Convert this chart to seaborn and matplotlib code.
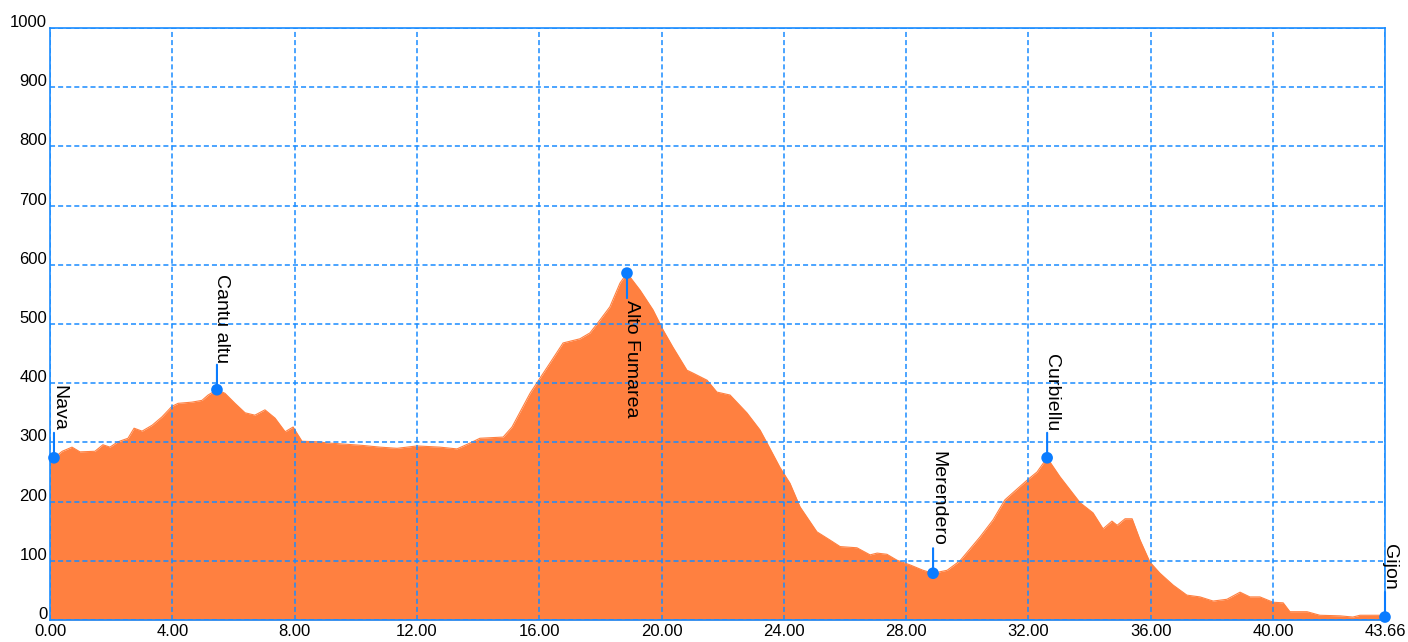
import matplotlib
matplotlib.use('Agg')
import matplotlib.pyplot as plt
import seaborn as sns
import pandas as pd
from matplotlib.transforms import ScaledTranslation

# ---- data (km, m) ----
dist = [0.00, 0.07, 0.13, 0.40, 0.72, 0.98, 1.47, 1.73, 1.96, 2.22, 2.55, 2.75,
        3.01, 3.34, 3.66, 3.99, 4.19, 4.64, 4.97, 5.17, 5.46, 5.72, 6.05, 6.38,
        6.70, 7.03, 7.36, 7.69, 7.95, 8.24, 8.76, 9.09, 9.65, 10.20, 10.79, 11.35,
        12.00, 12.75, 13.31, 13.74, 14.06, 14.82, 15.11, 15.70, 16.03, 16.35, 16.78,
        17.33, 17.66, 17.99, 18.31, 18.64, 18.87, 19.30, 19.72, 20.05, 20.37, 20.83,
        21.03, 21.49, 21.81, 22.24, 22.79, 23.22, 23.45, 23.87, 24.20, 24.53, 25.08,
        25.51, 25.84, 26.39, 26.82, 27.05, 27.37, 27.70, 28.13, 28.55, 28.88, 29.34,
        29.76, 30.41, 30.84, 31.23, 31.49, 31.95, 32.28, 32.61, 33.03, 33.69, 34.11,
        34.44, 34.73, 34.90, 35.16, 35.39, 35.65, 35.97, 36.30, 36.73, 37.18, 37.61,
        38.04, 38.49, 38.92, 39.24, 39.57, 40.00, 40.33, 40.55, 41.11, 41.53, 42.19,
        42.61, 42.84, 43.50, 43.66]
elev = [274, 279, 274, 285, 292, 284, 285, 296, 292, 301, 307, 324,
        319, 329, 343, 361, 366, 368, 371, 380, 389, 383, 366, 350,
        346, 355, 341, 318, 326, 302, 301, 299, 297, 295, 292, 290,
        294, 292, 289, 299, 307, 309, 326, 383, 409, 434, 468,
        475, 485, 507, 529, 569, 586, 557, 524, 490, 461, 422,
        417, 405, 385, 380, 350, 321, 299, 258, 231, 191, 149,
        135, 124, 122, 110, 113, 111, 101, 93, 84, 79, 84,
        100, 140, 169, 203, 215, 236, 250, 274, 242, 198, 181,
        154, 167, 160, 171, 171, 135, 98, 79, 59, 42, 39,
        32, 35, 47, 39, 39, 30, 29, 14, 14, 8, 7,
        5, 8, 8, 5]

wp_names = ['Nava', 'Cantu altu', 'Alto Fumarea', 'Merendero', 'Curbiellu', 'Gijon']
wp_dist = [0.13, 5.46, 18.87, 28.88, 32.61, 43.66]
wp_elev = [274, 389, 586, 79, 274, 5]
wp_dir = ['up', 'up', 'down', 'up', 'up', 'up']

xticks = [0, 4, 8, 12, 16, 20, 24, 28, 32, 36, 40, 43.66]
xticklabels = ['0.00', '4.00', '8.00', '12.00', '16.00', '20.00', '24.00',
               '28.00', '32.00', '36.00', '40.00', '43.66']
yticks = [0, 100, 200, 300, 400, 500, 600, 700, 800, 900, 1000]
yticklabels = ['0', '100', '200', '300', '400', '500', '600', '700', '800', '900', '1000']

FILL = '#FF8040'
BLUE = '#1A8CFF'

sns.set_style('white')
plt.rcParams['font.family'] = ['Liberation Sans', 'DejaVu Sans']

fig = plt.figure(figsize=(14.08, 6.42), dpi=100)
ax = fig.add_axes([50 / 1408, 22 / 642, 1335 / 1408, 592 / 642])

df = pd.DataFrame({'dist': dist, 'elev': elev})
ax.fill_between(df['dist'], df['elev'], 0, color=FILL, lw=0, zorder=1)
sns.lineplot(data=df, x='dist', y='elev', ax=ax, color=FILL, lw=0.8, zorder=1.5)

ax.set_xlim(0, 43.66)
ax.set_ylim(0, 1000)
ax.set_xticks(xticks)
ax.set_xticklabels(xticklabels)
ax.set_yticks(yticks)
ax.set_yticklabels(yticklabels)
ax.set_xlabel('')
ax.set_ylabel('')
ax.tick_params(length=0, labelsize=12, colors='black', pad=3)
ax.tick_params(axis='y', pad=2)
for lab in ax.get_yticklabels():
    lab.set_transform(lab.get_transform() + ScaledTranslation(0, 7 / 100, fig.dpi_scale_trans))

ax.set_axisbelow(False)
ax.grid(True, color=BLUE, ls=(0, (3.3, 2)), lw=1.1, zorder=2)
for s in ax.spines.values():
    s.set_color(BLUE)
    s.set_linewidth(1.2)
    s.set_zorder(3)

sns.scatterplot(x=wp_dist, y=wp_elev, ax=ax, color='#0A7CFF', s=70,
                edgecolor='none', zorder=6, clip_on=False, legend=False)

for name, d, e, dr in zip(wp_names, wp_dist, wp_elev, wp_dir):
    sign = 1 if dr == 'up' else -1
    ax.annotate('', xy=(d, e), xytext=(0, sign * 25), textcoords='offset pixels',
                arrowprops=dict(arrowstyle='-', color='#0A7CFF', lw=1.5,
                                shrinkA=0, shrinkB=0), zorder=5, annotation_clip=False)
    ax.annotate(name, xy=(d, e), xytext=(-4, sign * 27), textcoords='offset pixels',
                rotation=270, ha='left', va='bottom' if sign > 0 else 'top',
                fontsize=14, color='black', zorder=7, annotation_clip=False)

fig.savefig('out.png', dpi=100)
